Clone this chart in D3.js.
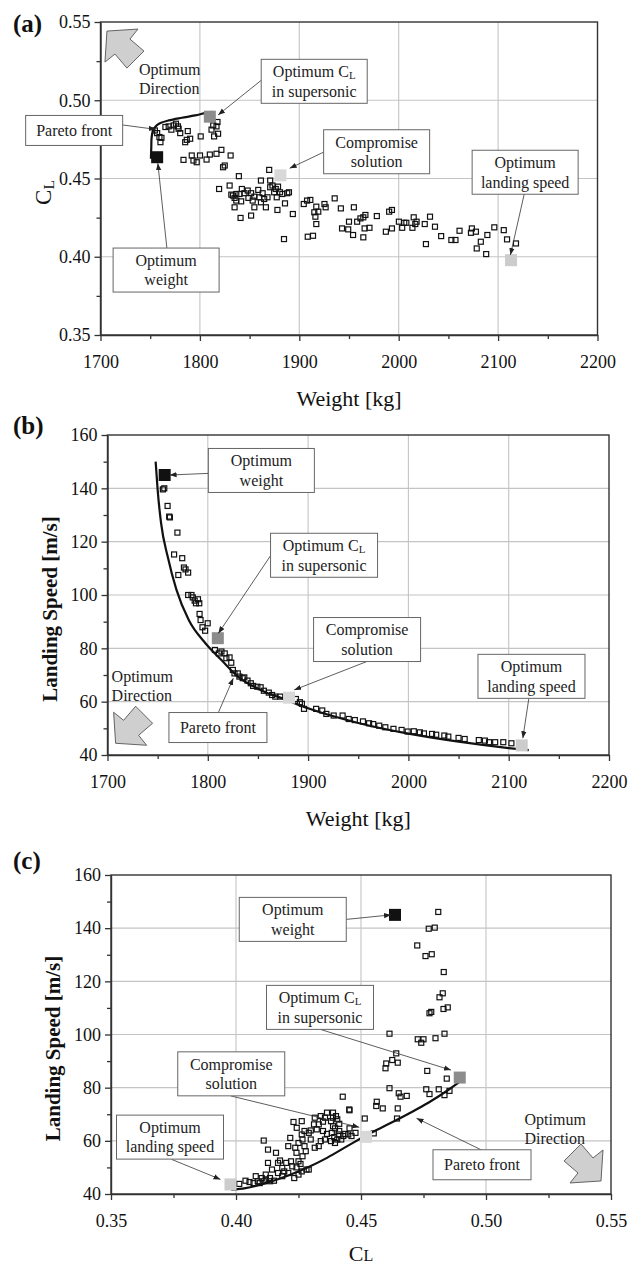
<!DOCTYPE html>
<html>
<head>
<meta charset="utf-8">
<script src="https://cdnjs.cloudflare.com/ajax/libs/d3/7.8.5/d3.min.js"></script>
<style>
	body { margin: 0; background: #fff; }
	svg { display: block; font-family: "Liberation Serif", "Times New Roman", serif; }
</style>
</head>
<body>
<div id="chart"></div>
<script>
// ---------- data ----------
var weightTicks = [1700, 1800, 1900, 2000, 2100, 2200];
var weightMinor = [1750, 1850, 1950, 2050, 2150];
var clTicks = [0.35, 0.40, 0.45, 0.50, 0.55];
var clMinor = [0.375, 0.425, 0.475, 0.525];
var speedTicks = [40, 60, 80, 100, 120, 140, 160];
var speedMinor = [50, 70, 90, 110, 130, 150];

// (a) weight vs CL
var pointsA = [
	[1754.7,0.4807],[1757.0,0.4790],[1759.3,0.4765],[1760.3,0.4732],[1761.3,0.4760],[1765.3,0.4829],
	[1768.6,0.4833],[1771.3,0.4812],[1773.6,0.4839],[1775.9,0.4850],[1777.9,0.4833],[1780.2,0.4790],
	[1778.6,0.4818],[1785.2,0.4732],[1786.8,0.4747],[1787.8,0.4803],[1790.2,0.4754],[1783.5,0.4619],
	[1791.8,0.4647],[1793.5,0.4615],[1796.8,0.4604],[1800.1,0.4647],[1800.8,0.4769],[1806.7,0.4621],
	[1810.0,0.4653],[1811.7,0.4812],[1814.3,0.4769],[1816.7,0.4833],[1817.7,0.4861],[1818.3,0.4786],
	[1813.4,0.4839],[1816.7,0.4658],[1821.6,0.4683],[1823.3,0.4572],[1825.0,0.4583],[1830.9,0.4647],
	[1839.2,0.4515],[1819.3,0.4433],[1829.9,0.4455],[1831.6,0.4397],[1834.9,0.4376],[1836.6,0.4401],
	[1839.9,0.4401],[1842.2,0.4433],[1844.8,0.4406],[1848.1,0.4423],[1848.8,0.4376],[1851.5,0.4406],
	[1853.1,0.4359],[1854.8,0.4384],[1858.7,0.4427],[1859.7,0.4380],[1861.4,0.4348],[1863.1,0.4406],
	[1864.7,0.4369],[1868.0,0.4380],[1869.7,0.4555],[1870.7,0.4444],[1873.0,0.4455],[1874.7,0.4412],
	[1876.3,0.4433],[1877.3,0.4380],[1878.6,0.4448],[1880.6,0.4412],[1882.9,0.4401],[1885.6,0.4341],
	[1887.9,0.4406],[1889.6,0.4412],[1893.5,0.4273],[1834.9,0.4316],[1840.9,0.4248],[1851.5,0.4263],
	[1854.8,0.4316],[1866.4,0.4316],[1878.0,0.4299],[1884.6,0.4113],[1870.7,0.4487],[1861.4,0.4487],
	[1833.2,0.4391],[1836.6,0.4359],[1841.5,0.4354],[1904.5,0.4337],[1907.8,0.4359],[1911.1,0.4363],
	[1915.1,0.4284],[1908.5,0.4128],[1917.1,0.4320],[1916.2,0.4256],[1917.1,0.4209],[1919.1,0.4288],
	[1913.8,0.4134],[1925.3,0.4337],[1926.5,0.4316],[1935.6,0.4373],[1941.8,0.4309],[1954.9,0.4316],
	[1943.0,0.4181],[1949.2,0.4175],[1950.0,0.4224],[1954.1,0.4139],[1958.2,0.4224],[1961.5,0.4245],
	[1964.4,0.4252],[1965.7,0.4181],[1966.5,0.4267],[1964.4,0.4124],[1970.6,0.4185],[1978.0,0.4260],
	[1987.1,0.4160],[1990.4,0.4288],[1993.2,0.4299],[1993.2,0.4181],[2000.2,0.4224],[2003.5,0.4185],
	[2005.6,0.4217],[2007.7,0.4217],[2013.8,0.4185],[2015.1,0.4252],[2016.7,0.4209],[2018.0,0.4224],
	[2026.2,0.4209],[2027.4,0.4081],[2031.5,0.4256],[2036.5,0.4192],[2042.7,0.4132],[2053.0,0.4107],
	[2057.1,0.4107],[2061.2,0.4166],[2072.7,0.4153],[2073.6,0.4181],[2077.7,0.4160],[2078.5,0.4053],
	[2082.6,0.4096],[2088.0,0.4017],[2089.2,0.4139],[2096.2,0.4188],[2105.7,0.4170],[2109.0,0.4111],
	[2118.0,0.4085]
];
var paretoA = [
	[1750.7,0.4626],[1751.1,0.4700],[1751.4,0.4760],[1752.7,0.4803],[1755.4,0.4833],[1760.3,0.4854],
	[1768.6,0.4871],[1781.9,0.4888],[1795.1,0.4903],[1806.7,0.4921],[1812.0,0.4926]
];

// (b) weight vs landing speed
var pointsB = [
	[1756.6,140.0],[1755.2,139.6],[1759.9,133.4],[1761.5,129.4],[1762.2,129.1],[1769.7,123.4],
	[1766.4,115.2],[1774.5,113.8],[1776.2,110.3],[1777.8,109.6],[1780.4,108.4],[1770.6,107.5],
	[1780.4,100.0],[1783.7,100.0],[1785.0,99.1],[1786.9,97.9],[1788.2,96.9],[1790.2,98.4],
	[1791.5,96.9],[1791.8,92.9],[1792.8,90.6],[1794.7,87.9],[1797.3,86.6],[1799.9,89.4],
	[1807.1,79.4],[1811.0,78.1],[1813.6,78.8],[1816.9,78.1],[1818.5,76.3],[1821.7,76.6],
	[1823.4,74.6],[1825.0,71.9],[1826.6,70.6],[1829.9,70.6],[1831.5,69.4],[1834.8,68.8],
	[1836.4,69.1],[1839.6,67.9],[1842.9,66.9],[1845.2,65.9],[1849.4,65.6],[1852.7,65.4],
	[1855.9,64.1],[1860.8,63.4],[1864.1,62.5],[1867.3,61.9],[1872.2,61.9],[1881.7,61.7],
	[1887.8,61.0],[1891.8,59.8],[1893.8,59.2],[1895.9,57.3],[1908.0,57.3],[1914.1,56.7],
	[1918.2,55.4],[1925.5,54.8],[1934.4,54.8],[1940.5,53.5],[1946.6,53.1],[1954.7,52.6],
	[1960.8,51.9],[1964.9,51.6],[1970.9,51.0],[1977.0,50.4],[1985.1,49.8],[1993.2,49.4],
	[1999.3,48.8],[2005.4,48.9],[2011.4,48.5],[2015.5,48.1],[2023.6,47.9],[2027.7,47.6],
	[2035.8,47.3],[2039.8,46.9],[2050.0,46.4],[2056.1,46.0],[2070.2,45.6],[2076.3,45.4],
	[2080.4,44.8],[2086.5,44.8],[2094.6,44.8],[2102.7,44.4]
];
var paretoB = [
	[1748,150],[1750,139.4],[1753.4,127],[1760,114.4],[1768.7,102],[1781,90.6],[1797.4,82],
	[1813.6,75.6],[1830,69.4],[1852.6,64.4],[1878.7,60.6],[1900,57.5],[1950,52],[2000,48],
	[2050,45],[2100,42.6],[2120,41.8]
];

// (c) CL vs landing speed
var pointsC = [
	[0.4809,146.1],[0.4771,139.8],[0.4795,140.2],[0.4725,133.5],[0.4758,129.5],[0.4783,130.2],
	[0.4831,123.5],[0.4827,115.5],[0.4814,114.0],[0.4830,109.6],[0.4847,110.2],[0.4774,108.0],
	[0.4781,108.5],[0.4614,100.3],[0.4727,98.2],[0.4741,96.9],[0.4750,98.2],[0.4798,98.6],
	[0.4834,100.3],[0.4641,92.9],[0.4601,89.1],[0.4625,90.4],[0.4647,89.4],[0.4598,87.3],
	[0.4765,86.3],[0.4843,83.4],[0.4614,79.8],[0.4651,77.9],[0.4683,76.9],[0.4658,76.6],
	[0.4761,79.4],[0.4774,77.6],[0.4811,79.4],[0.4834,77.2],[0.4854,78.8],[0.4427,76.6],
	[0.4563,74.7],[0.4587,72.2],[0.4561,73.1],[0.4647,72.2],[0.4453,71.8],[0.4515,68.4],
	[0.4644,68.4],[0.4454,64.7],[0.4478,63.0],[0.4551,62.8],[0.4454,71.5],
	[0.4388,70.6],[0.4400,69.3],[0.4388,68.7],[0.4405,68.1],[0.4380,67.4],[0.4413,66.4],
	[0.4388,65.5],[0.4396,64.7],[0.4413,63.7],[0.4383,63.0],[0.4410,62.4],[0.4393,61.4],
	[0.4405,60.5],[0.4380,59.9],[0.4396,59.2],[0.4429,61.8],[0.4437,62.6],[0.4449,62.4],
	[0.4462,61.8],[0.4421,60.5],[0.4364,70.6],[0.4356,68.7],[0.4339,69.3],[0.4348,67.2],
	[0.4331,66.2],[0.4315,68.7],[0.4312,66.2],[0.4299,63.9],[0.4323,64.3],[0.4348,63.7],
	[0.4364,62.6],[0.4356,60.5],[0.4339,59.9],[0.4331,58.0],[0.4315,57.4],[0.4299,60.5],
	[0.4291,63.0],[0.4274,63.7],[0.4263,62.4],[0.4266,60.5],[0.4250,59.2],[0.4237,57.4],
	[0.4274,58.0],[0.4279,56.1],[0.4266,54.2],[0.4243,64.9],[0.4263,67.4],[0.4230,67.1],
	[0.4217,61.1],[0.4209,58.0],[0.4242,55.5],[0.4250,52.3],[0.4220,52.3],[0.4201,51.7],
	[0.4185,49.8],[0.4168,47.9],[0.4193,48.5],[0.4209,47.9],[0.4225,50.4],[0.4242,50.0],
	[0.4258,51.3],[0.4263,48.5],[0.4282,49.2],[0.4291,49.2],[0.4250,47.3],[0.4233,46.0],
	[0.4185,46.7],[0.4160,55.5],[0.4176,52.6],[0.4144,49.2],[0.4168,51.7],[0.4128,56.7],
	[0.4119,47.3],[0.4128,51.7],[0.4111,60.1],[0.4136,46.0],[0.4152,45.0],[0.4136,44.8],
	[0.4119,45.4],[0.4103,46.0],[0.4087,44.8],[0.4079,46.7],[0.4095,44.1],[0.4070,44.1],
	[0.4054,44.5],[0.4038,45.0],[0.4013,43.8],[0.4111,44.8]
];
var paretoC = [
	[0.3981,41.6],[0.4038,42.2],[0.4119,44.1],[0.4201,46.7],[0.4282,49.8],[0.4364,53.6],
	[0.4445,58.0],[0.4527,62.4],[0.4608,66.2],[0.4690,70.2],[0.4771,74.4],[0.4853,79.4],[0.4915,83.6]
];

// the four highlighted designs
var optimumWeight = [1757, 1810, 1881, 2113];
var optimumCL = [0.4636, 0.4895, 0.4520, 0.3978];
var optimumSpeed = [145, 83.8, 61.5, 43.6];
var optimumFill = ["#111111", "#8c8c8c", "#d8d8d8", "#cccccc"];

// ---------- layout ----------
var font = "'Liberation Serif', 'Times New Roman', serif";
var W = 641, H = 1267;

var svg = d3.select("#chart").append("svg")
	.attr("width", W)
	.attr("height", H);

svg.append("rect").attr("width", W).attr("height", H).attr("fill", "#fff");

svg.append("defs").append("marker")
	.attr("id", "head")
	.attr("viewBox", "0 0 10 10")
	.attr("refX", 10).attr("refY", 5)
	.attr("markerUnits", "userSpaceOnUse")
	.attr("markerWidth", 7).attr("markerHeight", 7)
	.attr("orient", "auto")
	.append("path")
	.attr("d", "M0,1.2L10,5L0,8.8Z")
	.attr("fill", "#222");

// block arrow pointing up-left, tip at 0,0
var arrowShape = [[0,0],[31,-2],[23,8],[37,20],[20,37],[8,23],[-2,31]];

var panels = [
	{
		label: "(a)", labelY: 23,
		left: 100.5, right: 597.5, top: 22, bottom: 335,
		xDomain: [1700, 2200], yDomain: [0.35, 0.55],
		xTicks: weightTicks, xMinor: weightMinor, yTicks: clTicks, yMinor: clMinor,
		xFormat: d3.format("d"), yFormat: d3.format(".2f"),
		points: pointsA, pareto: paretoA, curve: d3.curveCatmullRom.alpha(0.5),
		mx: optimumWeight, my: optimumCL,
		xTitle: "Weight [kg]", yTitle: "C_L", yTitleBold: false, yTitleSize: 23,
		dir: {tip: [1706.5, 0.5442], flip: [1, 1], text: [1738.8, 0.520]},
		notes: [
			{lines: ["Pareto front"], at: [1673.5, 0.4807], w: 97, h: 30, from: [1722.3, 0.4842], to: [1755.6, 0.4814]},
			{lines: ["Optimum C_L", "in supersonic"], at: [1915, 0.5121], w: 106, h: 44, from: [1862, 0.5129], to: [1818.3, 0.4906]},
			{lines: ["Compromise", "solution"], at: [1977.8, 0.4671], w: 106, h: 44, from: [1925.3, 0.4671], to: [1890.3, 0.4565]},
			{lines: ["Optimum", "landing speed"], at: [2127.2, 0.4540], w: 106, h: 44, from: [2126.3, 0.4401], to: [2112.4, 0.4011]},
			{lines: ["Optimum", "weight"], at: [1766, 0.3915], w: 106, h: 44, from: [1766.8, 0.4054], to: [1757.7, 0.4597]}
		]
	},
	{
		label: "(b)", labelY: 425,
		left: 107.5, right: 609, top: 435, bottom: 755,
		xDomain: [1700, 2200], yDomain: [40, 160],
		xTicks: weightTicks, xMinor: weightMinor, yTicks: speedTicks, yMinor: speedMinor,
		xFormat: d3.format("d"), yFormat: d3.format("d"),
		points: pointsB, pareto: paretoB, curve: d3.curveMonotoneX,
		mx: optimumWeight, my: optimumSpeed,
		xTitle: "Weight [kg]", yTitle: "Landing Speed [m/s]", yTitleBold: true, yTitleSize: 21,
		dir: {tip: [1708.1, 44.4], flip: [1, -1], text: [1704.1, 69.6]},
		notes: [
			{lines: ["Optimum", "weight"], at: [1853.4, 146.7], w: 106, h: 44, from: [1800.4, 145.6], to: [1761.9, 145.0]},
			{lines: ["Optimum C_L", "in supersonic"], at: [1915.9, 114.9], w: 107, h: 44, from: [1862.3, 114.6], to: [1810.5, 85.6]},
			{lines: ["Compromise", "solution"], at: [1958.8, 83.3], w: 107, h: 44, from: [1958.2, 75.0], to: [1886.1, 64.4]},
			{lines: ["Optimum", "landing speed"], at: [2122.7, 69.5], w: 107, h: 44, from: [2120.1, 61.3], to: [2114.1, 46.3]},
			{lines: ["Pareto front"], at: [1810.1, 50.3], w: 98, h: 30, from: [1810.5, 55.9], to: [1825.4, 68.8]}
		]
	},
	{
		label: "(c)", labelY: 860,
		left: 111, right: 611, top: 875, bottom: 1194,
		xDomain: [0.35, 0.55], yDomain: [40, 160],
		xTicks: clTicks, xMinor: clMinor, yTicks: speedTicks, yMinor: speedMinor,
		xFormat: d3.format(".2f"), yFormat: d3.format("d"),
		points: pointsC, pareto: paretoC, curve: d3.curveMonotoneX,
		mx: optimumCL, my: optimumSpeed,
		xTitle: "CL", yTitle: "Landing Speed [m/s]", yTitleBold: true, yTitleSize: 21,
		dir: {tip: [0.546, 44.9], flip: [-1, -1], text: [0.5154, 68.1]},
		notes: [
			{lines: ["Optimum", "weight"], at: [0.4227, 143.3], w: 107, h: 44, from: [0.4441, 143.3], to: [0.4620, 145.0]},
			{lines: ["Optimum C_L", "in supersonic"], at: [0.4336, 110.2], w: 107, h: 44, from: [0.4338, 101.9], to: [0.4860, 86.6]},
			{lines: ["Compromise", "solution"], at: [0.3981, 85.2], w: 107, h: 44, from: [0.3979, 76.9], to: [0.4493, 65.1]},
			{lines: ["Optimum", "landing speed"], at: [0.3736, 61.4], w: 107, h: 44, from: [0.3743, 53.0], to: [0.3938, 45.5]},
			{lines: ["Pareto front"], at: [0.4984, 51.0], w: 98, h: 30, from: [0.4983, 56.5], to: [0.4722, 68.5]}
		]
	}
];

// writes "C_L" as C with a subscript L
function addText(sel, str, subDy) {
	var parts = str.split("_");
	sel.append("tspan").text(parts[0]);
	if (parts.length > 1) {
		sel.append("tspan")
			.attr("font-size", "0.68em")
			.attr("dy", subDy)
			.text(parts[1]);
	}
}

function drawPanel(p) {
	var x = d3.scaleLinear().domain(p.xDomain).range([p.left, p.right]);
	var y = d3.scaleLinear().domain(p.yDomain).range([p.bottom, p.top]);
	var g = svg.append("g");

	// grid
	g.selectAll(".vgrid").data(p.xTicks.slice(1, -1)).enter().append("line")
		.attr("x1", function(d) { return x(d); })
		.attr("x2", function(d) { return x(d); })
		.attr("y1", p.top).attr("y2", p.bottom)
		.attr("stroke", "#c4c4c4").attr("stroke-width", 1.1);
	g.selectAll(".hgrid").data(p.yTicks.slice(1, -1)).enter().append("line")
		.attr("y1", function(d) { return y(d); })
		.attr("y2", function(d) { return y(d); })
		.attr("x1", p.left).attr("x2", p.right)
		.attr("stroke", "#c4c4c4").attr("stroke-width", 1.1);

	// scatter of all designs
	g.selectAll(".pt").data(p.points).enter().append("rect")
		.attr("x", function(d) { return x(d[0]) - 2.5; })
		.attr("y", function(d) { return y(d[1]) - 2.5; })
		.attr("width", 5).attr("height", 5)
		.attr("fill", "none")
		.attr("stroke", "#111").attr("stroke-width", 1.2);

	// pareto front
	var line = d3.line()
		.x(function(d) { return x(d[0]); })
		.y(function(d) { return y(d[1]); })
		.curve(p.curve);
	g.append("path")
		.datum(p.pareto)
		.attr("d", line)
		.attr("fill", "none")
		.attr("stroke", "#111").attr("stroke-width", 2.2);

	// highlighted optima
	g.selectAll(".opt").data(d3.range(p.mx.length)).enter().append("rect")
		.attr("x", function(i) { return x(p.mx[i]) - 6; })
		.attr("y", function(i) { return y(p.my[i]) - 6; })
		.attr("width", 12).attr("height", 12)
		.attr("fill", function(i) { return optimumFill[i]; });

	// frame and axes
	g.append("rect")
		.attr("x", p.left).attr("y", p.top)
		.attr("width", p.right - p.left).attr("height", p.bottom - p.top)
		.attr("fill", "none").attr("stroke", "#333").attr("stroke-width", 1.4);

	var xAxis = g.append("g")
		.attr("transform", "translate(0," + p.bottom + ")")
		.call(d3.axisBottom(x).tickValues(p.xTicks).tickSize(6).tickSizeOuter(0).tickPadding(14).tickFormat(p.xFormat));
	g.append("g")
		.attr("transform", "translate(0," + p.bottom + ")")
		.call(d3.axisBottom(x).tickValues(p.xMinor).tickSize(4).tickSizeOuter(0).tickFormat(""))
		.select(".domain").remove();

	var yAxis = g.append("g")
		.attr("transform", "translate(" + p.left + ",0)")
		.call(d3.axisLeft(y).tickValues(p.yTicks).tickSize(6).tickSizeOuter(0).tickPadding(4).tickFormat(p.yFormat));
	g.append("g")
		.attr("transform", "translate(" + p.left + ",0)")
		.call(d3.axisLeft(y).tickValues(p.yMinor).tickSize(4).tickSizeOuter(0).tickFormat(""))
		.select(".domain").remove();

	g.selectAll(".tick line").attr("stroke", "#333").attr("stroke-width", 1.3);
	[xAxis, yAxis].forEach(function(a) {
		a.attr("font-family", font).attr("font-size", 18);
		a.select(".domain").attr("stroke", "#333").attr("stroke-width", 1.4);
		a.selectAll("text").attr("fill", "#111");
	});

	// axis titles
	var xt = g.append("text")
		.attr("x", (p.left + p.right) / 2)
		.attr("y", Math.min(p.bottom + 71, H - 6))
		.attr("text-anchor", "middle")
		.attr("font-family", font).attr("font-size", 22)
		.attr("fill", "#111");
	if (p.xTitle === "CL") {
		xt.append("tspan").text("C");
		xt.append("tspan").attr("font-size", 16).text("L");
	} else {
		xt.text(p.xTitle);
	}

	var yt = g.append("text")
		.attr("transform", "translate(" + (p.left - 58) + "," + ((p.top + p.bottom) / 2 + 14) + ") rotate(-90)")
		.attr("text-anchor", "middle")
		.attr("dy", "0.35em")
		.attr("font-family", font).attr("font-size", p.yTitleSize)
		.attr("font-weight", p.yTitleBold ? "bold" : "normal")
		.attr("fill", "#111");
	addText(yt, p.yTitle, "0.25em");

	// panel letter
	g.append("text")
		.attr("x", 13).attr("y", p.labelY)
		.attr("dy", "0.35em")
		.attr("font-family", font).attr("font-size", 25).attr("font-weight", "bold")
		.attr("fill", "#111")
		.text(p.label);

	// optimum direction arrow
	var tx = x(p.dir.tip[0]), ty = y(p.dir.tip[1]);
	g.append("polygon")
		.attr("points", arrowShape.map(function(v) {
			return (tx + v[0] * p.dir.flip[0]) + "," + (ty + v[1] * p.dir.flip[1]);
		}).join(" "))
		.attr("fill", "#cfcfcf").attr("stroke", "#555").attr("stroke-width", 0.9);

	var dirText = g.append("g")
		.attr("font-family", font).attr("font-size", 16).attr("fill", "#222");
	["Optimum", "Direction"].forEach(function(s, i) {
		dirText.append("text")
			.attr("x", x(p.dir.text[0]))
			.attr("y", y(p.dir.text[1]) + i * 19.5)
			.attr("dy", "0.35em")
			.text(s);
	});

	// callouts
	p.notes.forEach(function(n) {
		g.append("line")
			.attr("x1", x(n.from[0])).attr("y1", y(n.from[1]))
			.attr("x2", x(n.to[0])).attr("y2", y(n.to[1]))
			.attr("stroke", "#333").attr("stroke-width", 0.8)
			.attr("marker-end", "url(#head)");

		var cx = x(n.at[0]), cy = y(n.at[1]);
		g.append("rect")
			.attr("x", cx - n.w / 2).attr("y", cy - n.h / 2)
			.attr("width", n.w).attr("height", n.h)
			.attr("fill", "#fff")
			.attr("stroke", "#666").attr("stroke-width", 1);

		n.lines.forEach(function(s, i) {
			var t = g.append("text")
				.attr("x", cx)
				.attr("y", cy + (i - (n.lines.length - 1) / 2) * 19.5)
				.attr("dy", "0.35em")
				.attr("text-anchor", "middle")
				.attr("font-family", font).attr("font-size", 16)
				.attr("fill", "#222");
			addText(t, s, "0.2em");
		});
	});
}

panels.forEach(drawPanel);
</script>
</body>
</html>
